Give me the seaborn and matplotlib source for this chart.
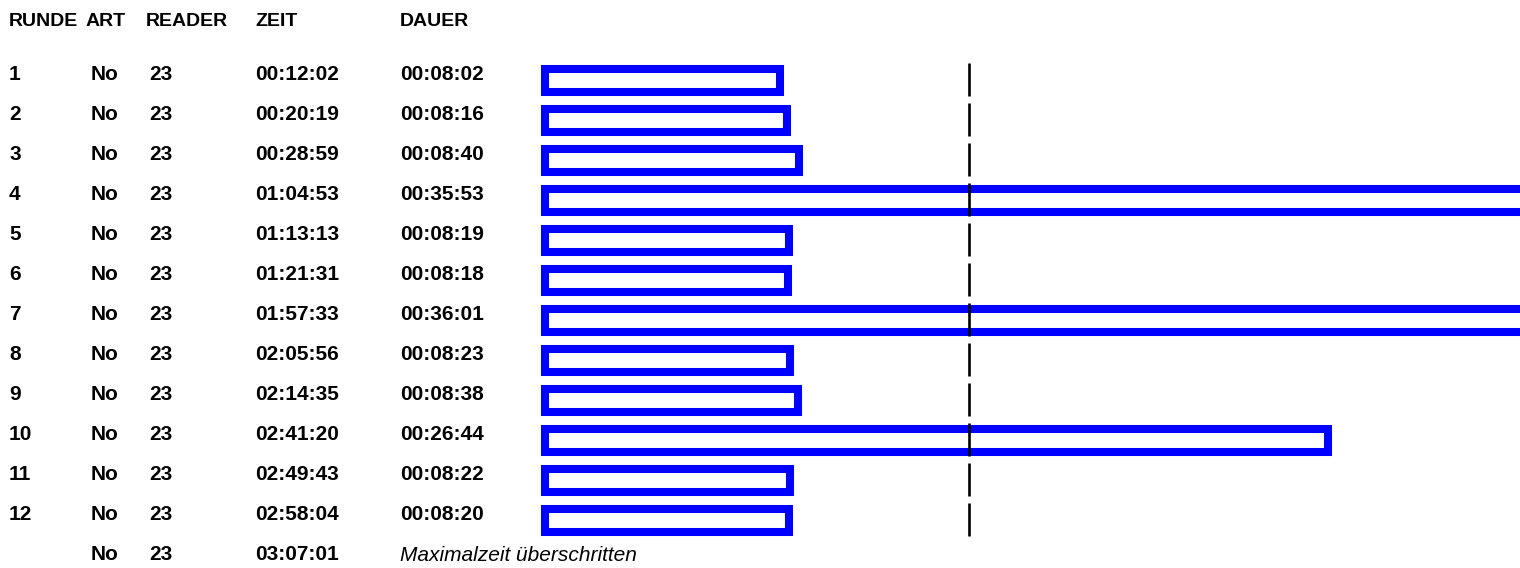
import matplotlib
matplotlib.use("Agg")
import matplotlib.pyplot as plt
import matplotlib.transforms as mtransforms
import seaborn as sns
import pandas as pd

# ---- data ----
runde = ["1", "2", "3", "4", "5", "6", "7", "8", "9", "10", "11", "12", ""]
art = ["No"] * 13
reader = ["23"] * 13
zeit = ["00:12:02", "00:20:19", "00:28:59", "01:04:53", "01:13:13", "01:21:31",
        "01:57:33", "02:05:56", "02:14:35", "02:41:20", "02:49:43", "02:58:04", "03:07:01"]
dauer = ["00:08:02", "00:08:16", "00:08:40", "00:35:53", "00:08:19", "00:08:18",
         "00:36:01", "00:08:23", "00:08:38", "00:26:44", "00:08:22", "00:08:20"]
last_note = "Maximalzeit überschritten"
headers = ["RUNDE", "ART", "READER", "ZEIT", "DAUER"]


def to_sec(s):
    h, m, sec = (int(v) for v in s.split(":"))
    return h * 3600 + m * 60 + sec


dauer_sec = [to_sec(d) for d in dauer]
avg_sec = sum(dauer_sec) / len(dauer_sec)

df = pd.DataFrame({"runde": runde[:12], "sec": dauer_sec})

sns.set_theme(style="white")
plt.rcParams["font.family"] = ["Liberation Sans", "DejaVu Sans"]

W, H = 1520, 568
fig = plt.figure(figsize=(W / 100, H / 100), dpi=100)
fig.patch.set_facecolor("white")

ax_left = 545
ax_top, ax_bot = 60.5, 540.5
ax = fig.add_axes([ax_left / W, (H - ax_bot) / H, (W - ax_left) / W, (ax_bot - ax_top) / H])

blue = "#0000ff"
sns.barplot(data=df, x="sec", y="runde", orient="h", ax=ax, fill=False,
            color=blue, linewidth=5.8, width=0.575, errorbar=None)
for p in ax.patches:
    p.set_edgecolor(blue)
    p.set_facecolor("white")
    p.set_fill(True)
    p.set_joinstyle("miter")
    p.set_clip_on(False)

ax.set_xlim(0, (W - ax_left) / 0.488)
ax.set_ylim(11.5, -0.5)
for i in range(12):
    ax.vlines(avg_sec, i - 0.43, i + 0.39, color="black", linewidth=1.9, zorder=5)

ax.axis("off")

# ---- table text ----
trans = mtransforms.blended_transform_factory(fig.transFigure, ax.transData)
col_x = [9, 91, 149, 255, 400]
bold_kw = dict(fontsize=15, fontweight="bold", color="black", va="center", ha="left")
for i in range(13):
    y = i - 0.16
    vals = [runde[i], art[i], reader[i], zeit[i]]
    for cx, v in zip(col_x[:4], vals):
        if v:
            ax.text(cx / W, y, v, transform=trans, clip_on=False, **bold_kw)
    if i < 12:
        ax.text(col_x[4] / W, y, dauer[i], transform=trans, clip_on=False, **bold_kw)
    else:
        ax.text(col_x[4] / W, y + 0.03, last_note, transform=trans, clip_on=False,
                fontsize=15, fontstyle="italic", color="black", va="center", ha="left")

hdr_x = [9, 86, 146, 255, 400]
for hx, h in zip(hdr_x, headers):
    fig.text(hx / W, 1 - 22 / H, h, fontsize=14, fontweight="bold", color="black",
             va="center", ha="left")

fig.savefig("out.png", dpi=100, facecolor="white")
